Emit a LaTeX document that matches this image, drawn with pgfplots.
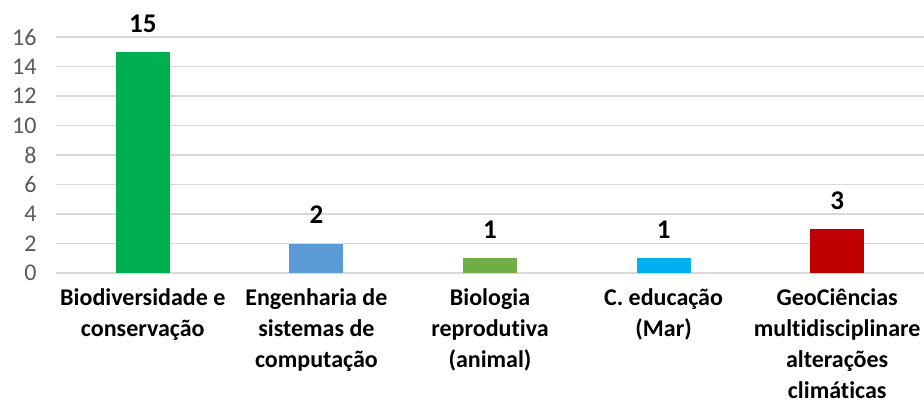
\documentclass[border=0pt]{standalone}
\usepackage{fontspec}
\setmainfont[Ligatures={NoCommon}]{Carlito}
\usepackage{pgfplots}
\pgfplotsset{compat=1.18}
\definecolor{cgreen}{HTML}{00B050}
\definecolor{cblue}{HTML}{5B9BD5}
\definecolor{clgreen}{HTML}{70AD47}
\definecolor{ccyan}{HTML}{00B0F0}
\definecolor{cred}{HTML}{C00000}
\definecolor{cgrid}{HTML}{D9D9D9}
\definecolor{ctick}{HTML}{595959}
\begin{document}
\begin{tikzpicture}[x=1bp,y=1bp]
\begin{axis}[
    scale only axis,
    width=868bp, height=236bp,
    xmin=-0.5, xmax=4.5,
    ymin=0, ymax=16,
    ytick={0,2,...,16},
    xtick={0,1,2,3,4},
    xticklabels={Biodiversidade e\\conservação,Engenharia de\\sistemas de\\computação,Biologia\\reprodutiva\\(animal),C. educação\\(Mar),GeoCiências\\multidisciplinare\\alterações\\climáticas},
    xticklabel style={align=center, font=\fontsize{24bp}{31bp}\selectfont\bfseries, text=black, yshift=-12bp},
    yticklabel style={font=\fontsize{24bp}{28bp}\selectfont, text=ctick, xshift=-16bp},
    /pgf/number format/assume math mode=true,
    axis line style={draw=none},
    major tick length=0pt,
    ymajorgrids,
    grid style={cgrid, line width=1.8bp},
    ybar, bar width=54bp, bar shift=0pt,
    nodes near coords,
    every node near coord/.append style={font=\fontsize{27bp}{30bp}\selectfont\bfseries, text=black, yshift=16bp},
    clip=false,
]
\addplot[fill=cgreen, draw=none] coordinates {(0,15)};
\addplot[fill=cblue, draw=none] coordinates {(1,2)};
\addplot[fill=clgreen, draw=none] coordinates {(2,1)};
\addplot[fill=ccyan, draw=none] coordinates {(3,1)};
\addplot[fill=cred, draw=none] coordinates {(4,3)};
\end{axis}
\pgfresetboundingbox
\path (current axis.south west) ++(-56bp,-131bp) coordinate (bl);
\path (current axis.north east) ++(0bp,37bp) coordinate (tr);
\path[use as bounding box] (bl) rectangle (tr);
\end{tikzpicture}
\end{document}
